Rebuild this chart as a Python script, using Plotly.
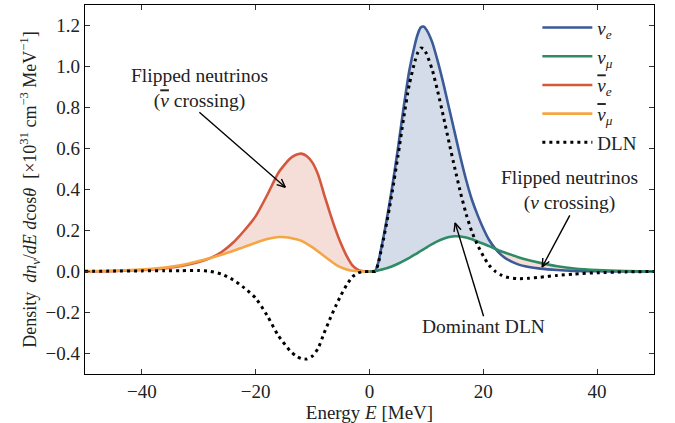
import math
import plotly.graph_objects as go

# Energy grids [MeV]
E_neg = [-50, -45, -40, -36, -33, -30, -28, -26, -24, -22, -20, -18, -16, -14, -13,
         -12, -11, -10, -9, -8, -7, -6, -5, -4, -3, -2, -1, 0]
E_pos = [0, 1, 1.5, 2, 2.5, 3, 3.5, 4, 5, 6, 7, 8, 8.5, 9, 9.5, 10, 11, 12, 13, 14,
         15, 16, 17, 18, 19, 20, 21, 22, 23, 24, 26, 28, 30, 33, 36, 40, 45, 50]

# Antineutrino densities (plotted at negative energy)
nubar_e = [0.0, 0.002, 0.007, 0.015, 0.027, 0.046, 0.065, 0.095, 0.14, 0.2, 0.27,
           0.372, 0.482, 0.55, 0.568, 0.575, 0.562, 0.53, 0.47, 0.378, 0.29, 0.207,
           0.135, 0.075, 0.03, 0.008, 0.001, 0.0]
nubar_mu = [0.001, 0.004, 0.01, 0.019, 0.031, 0.051, 0.066, 0.082, 0.1, 0.12, 0.14,
            0.158, 0.168, 0.165, 0.158, 0.15, 0.135, 0.118, 0.097, 0.076, 0.055,
            0.035, 0.02, 0.01, 0.004, 0.001, 0.0, 0.0]

# Neutrino densities (positive energy)
nu_e = [0.0, 0.003, 0.04, 0.105, 0.175, 0.25, 0.33, 0.415, 0.6, 0.8, 0.98, 1.11,
        1.16, 1.19, 1.195, 1.18, 1.12, 1.025, 0.915, 0.795, 0.675, 0.555, 0.445,
        0.35, 0.275, 0.21, 0.155, 0.115, 0.085, 0.063, 0.036, 0.022, 0.014, 0.007,
        0.003, 0.001, 0.0, 0.0]
nu_mu = [0.0, 0.002, 0.005, 0.008, 0.012, 0.016, 0.021, 0.026, 0.038, 0.052, 0.067,
         0.083, 0.091, 0.1, 0.108, 0.117, 0.133, 0.148, 0.16, 0.168, 0.172, 0.171,
         0.166, 0.157, 0.146, 0.135, 0.124, 0.112, 0.1, 0.09, 0.071, 0.055, 0.042,
         0.026, 0.015, 0.007, 0.002, 0.0]

# Lepton number difference: nu_e - nu_mu above zero, -(nubar_e - nubar_mu) below
dln_neg = [-(a - b) for a, b in zip(nubar_e, nubar_mu)]
dln_pos = [a - b for a, b in zip(nu_e, nu_mu)]
E_all = E_neg + E_pos[1:]
dln = dln_neg + dln_pos[1:]

x_ticks = [-40, -20, 0, 20, 40]
y_ticks = [-0.4, -0.2, 0.0, 0.2, 0.4, 0.6, 0.8, 1.0, 1.2]

BLUE = "#3b5a97"
GREEN = "#2e8b63"
RED = "#d4583d"
ORANGE = "#f6a545"
FILL_BLUE = "rgba(59,90,151,0.21)"
FILL_RED = "rgba(212,88,61,0.2)"
FONT = "Liberation Serif"
TXT = "#222222"
NUBAR = '<span style="text-decoration:overline">ν</span>'

X_RANGE = [-50, 50]
Y_RANGE = [-0.5, 1.3]
W, H = 675, 423
M = dict(l=85, r=21, t=5, b=49)
SX = (W - M["l"] - M["r"]) / (X_RANGE[1] - X_RANGE[0])
SY = (H - M["t"] - M["b"]) / (Y_RANGE[1] - Y_RANGE[0])

fig = go.Figure()
spl = dict(shape="spline", smoothing=0.6)

# split index where nu_mu overtakes nu_e
cut = E_pos.index(22)

# shaded regions between flavours
fig.add_trace(go.Scatter(x=E_pos[:cut + 1], y=nu_mu[:cut + 1], mode="lines",
                         line=dict(width=0, **spl), showlegend=False, hoverinfo="skip"))
fig.add_trace(go.Scatter(x=E_pos[:cut + 1], y=nu_e[:cut + 1], mode="lines",
                         line=dict(width=0, **spl), fill="tonexty", fillcolor=FILL_BLUE,
                         showlegend=False, hoverinfo="skip"))
fig.add_trace(go.Scatter(x=E_pos[cut:], y=nu_e[cut:], mode="lines",
                         line=dict(width=0, **spl), showlegend=False, hoverinfo="skip"))
fig.add_trace(go.Scatter(x=E_pos[cut:], y=nu_mu[cut:], mode="lines",
                         line=dict(width=0, **spl), fill="tonexty", fillcolor=FILL_RED,
                         showlegend=False, hoverinfo="skip"))
fig.add_trace(go.Scatter(x=E_neg, y=nubar_mu, mode="lines",
                         line=dict(width=0, **spl), showlegend=False, hoverinfo="skip"))
fig.add_trace(go.Scatter(x=E_neg, y=nubar_e, mode="lines",
                         line=dict(width=0, **spl), fill="tonexty", fillcolor=FILL_RED,
                         showlegend=False, hoverinfo="skip"))

# flavour curves
series = [
    (E_pos, nu_e, BLUE, "<i>ν</i><sub><i>e</i></sub>"),
    (E_pos, nu_mu, GREEN, "<i>ν</i><sub><i>μ</i></sub>"),
    (E_neg, nubar_e, RED, "<i>" + NUBAR + "</i><sub><i>e</i></sub>"),
    (E_neg, nubar_mu, ORANGE, "<i>" + NUBAR + "</i><sub><i>μ</i></sub>"),
]
for i, (xs, ys, col, name) in enumerate(series):
    fig.add_trace(go.Scatter(x=xs, y=ys, mode="lines", name=name, legendgroup=f"g{i}",
                             line=dict(color=col, width=2.6, **spl)))
fig.add_trace(go.Scatter(x=E_all, y=dln, mode="lines", name="DLN", legendgroup="g_dln",
                         line=dict(color="black", width=3, dash="3px,4px", **spl)))


def arrow(xt, yt, xh, yh, head=9, ang=24):
    """Open arrow from tail to head built from line shapes in data coordinates."""
    dxp = (xh - xt) * SX
    dyp = (yh - yt) * SY
    n = math.hypot(dxp, dyp)
    ux, uy = dxp / n, dyp / n
    line = dict(color="black", width=1.4)
    fig.add_shape(type="line", x0=xt, y0=yt, x1=xh, y1=yh, line=line)
    for s in (1, -1):
        a = math.radians(ang) * s
        bx = ux * math.cos(a) - uy * math.sin(a)
        by = ux * math.sin(a) + uy * math.cos(a)
        fig.add_shape(type="line", x0=xh, y0=yh,
                      x1=xh - head * bx / SX, y1=yh - head * by / SY, line=line)


arrow(-29.9, 0.777, -14.8, 0.411)
arrow(35.2, 0.274, 30.35, 0.022)
arrow(20.05, -0.218, 15.05, 0.237)

ann_font = dict(family=FONT, size=19.5, color=TXT)
fig.add_annotation(x=-29.9, y=0.895, text="Flipped neutrinos<br>(<i>" + NUBAR + "</i> crossing)",
                   showarrow=False, font=ann_font, align="center")
fig.add_annotation(x=35.2, y=0.393, text="Flipped neutrinos<br>(<i>ν</i> crossing)",
                   showarrow=False, font=ann_font, align="center")
fig.add_annotation(x=20.05, y=-0.27, text="Dominant DLN",
                   showarrow=False, font=ann_font, align="center")

axis_common = dict(showline=True, linecolor="black", linewidth=1.3, mirror="ticks",
                   ticks="inside", ticklen=5, tickwidth=1.1, tickcolor="#333",
                   showgrid=False, zeroline=False,
                   tickfont=dict(family=FONT, size=19, color=TXT))

fig.update_xaxes(range=X_RANGE, tickvals=x_ticks,
                 title=dict(text="Energy <i>E</i> [MeV]",
                            font=dict(family=FONT, size=19, color=TXT), standoff=2),
                 **axis_common)
fig.update_yaxes(range=Y_RANGE, tickvals=y_ticks, tickformat=".1f",
                 title=dict(text="Density  <i>dn</i><sub><i>ν</i></sub>/<i>dE d</i>cos<i>θ</i>  [×10<sup>31</sup> cm<sup>−3</sup> MeV<sup>−1</sup>]",
                            font=dict(family=FONT, size=18, color=TXT), standoff=4),
                 **axis_common)

fig.update_layout(
    width=W, height=H, margin=M,
    paper_bgcolor="white", plot_bgcolor="white",
    font=dict(family=FONT, color=TXT),
    legend=dict(x=0.795, y=0.99, xanchor="left", yanchor="top",
                bgcolor="rgba(0,0,0,0)", borderwidth=0,
                font=dict(family=FONT, size=19, color=TXT),
                itemwidth=50, tracegroupgap=1, traceorder="grouped"),
    showlegend=True,
)

fig.write_html("out.html")
